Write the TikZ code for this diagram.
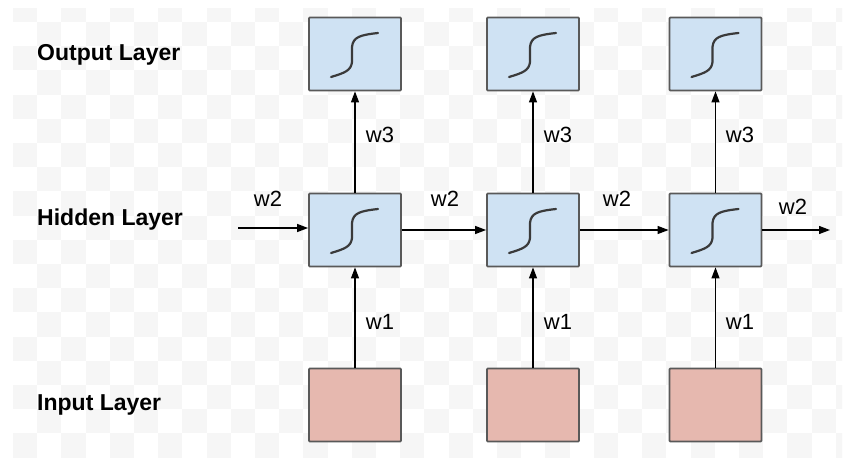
\documentclass[tikz,border=0pt]{standalone}
\usepackage{fontspec}
\setmainfont{Liberation Sans}
\usetikzlibrary{arrows.meta}
\definecolor{boxblue}{HTML}{CFE2F3}
\definecolor{boxpink}{HTML}{E6B8AF}
\definecolor{boxline}{HTML}{595959}
\definecolor{checkgray}{HTML}{F6F6F6}
\definecolor{curvecol}{HTML}{3A3A3A}
\tikzset{
  hidbox/.style={draw=boxline, fill=boxblue, line width=1.8pt, minimum width=92pt, minimum height=73pt, inner sep=0pt, rounded corners=0.8pt},
  inbox/.style={draw=boxline, fill=boxpink, line width=1.8pt, minimum width=92pt, minimum height=73pt, inner sep=0pt, rounded corners=0.8pt},
  layerlabel/.style={font=\fontsize{23}{23}\selectfont\bfseries, anchor=west, inner sep=0pt},
  wlabel/.style={font=\fontsize{22}{22}\selectfont, inner sep=0pt},
  conn/.style={line width=1.2pt, -{Triangle[length=11pt,width=8pt]}},
  sigline/.style={draw=curvecol, line width=2.2pt, line cap=round, line join=round},
  sig/.pic={\draw[sigline] (-24,23) .. controls (-11,19) and (-4,17) .. (-3,8) -- (-3,-7) .. controls (-2,-17) and (5,-19) .. (23,-21);}
}
\begin{document}
\begin{tikzpicture}[x=1pt,y=-1pt]
\useasboundingbox (0,0) rectangle (846,458);
\fill[white] (0,0) rectangle (846,458);
% faint checkerboard background
\begin{scope}
\clip (13,8) rectangle (842,458);
\foreach \i in {0,...,34} {
  \foreach \j in {0,...,18} {
    \pgfmathtruncatemacro{\parity}{mod(\i+\j,2)}
    \ifnum\parity=0
      \fill[checkgray] ({13+24.2*\i},{max(8,22+24.2*(\j-1))}) rectangle ({13+24.2*(\i+1)},{22+24.2*\j});
    \fi
  }
}
\end{scope}
% layer labels
\node[layerlabel] (lo) at (37,55) {Output Layer};
\node[layerlabel] (lh) at (37,220) {Hidden Layer};
\node[layerlabel] (li) at (37,405) {Input Layer};
% boxes
\foreach \c/\x in {1/355,2/533,3/715.5} {
  \node[hidbox] (o\c) at (\x,54) {};
  \pic at (o\c.center) {sig};
  \node[hidbox] (h\c) at (\x,230) {};
  \pic at (h\c.center) {sig};
  \node[inbox] (i\c) at (\x,405) {};
}
% vertical connectors
\foreach \c in {1,2,3} {
  \draw[conn] (i\c) -- (h\c);
  \draw[conn] (h\c) -- (o\c);
}
% horizontal connectors
\coordinate (cin) at (238,228);
\coordinate (cout) at (830,230);
\draw[conn] (cin) -- (h1.west |- cin);
\draw[conn] (h1) -- (h2);
\draw[conn] (h2) -- (h3);
\draw[conn] (h3.east) -- (cout);
% weight labels
\node[wlabel] (w2a) at (268,199) {w2};
\node[wlabel] (w2b) at (445,199) {w2};
\node[wlabel] (w2c) at (617,199) {w2};
\node[wlabel] (w2d) at (793,207) {w2};
\foreach \c/\x in {1/380,2/558,3/740} {
  \node[wlabel] (w3\c) at (\x,135) {w3};
  \node[wlabel] (w1\c) at (\x,322) {w1};
}
\end{tikzpicture}
\end{document}
